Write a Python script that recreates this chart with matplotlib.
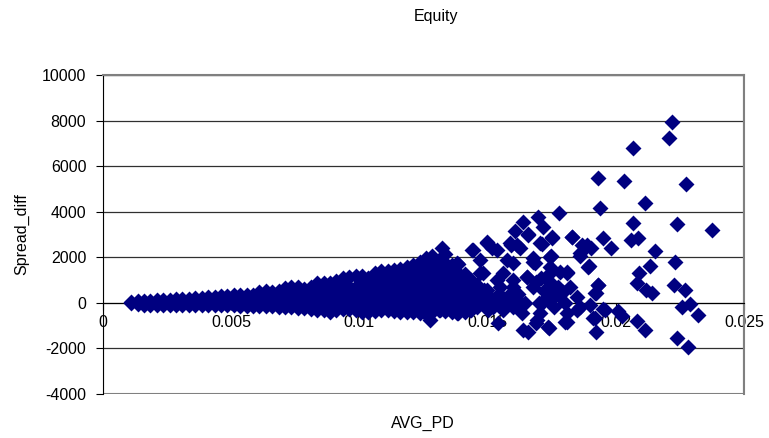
import matplotlib.pyplot as plt
from matplotlib.patches import Rectangle

plt.rcParams['font.family'] = ['Liberation Sans', 'DejaVu Sans']
plt.rcParams['axes.unicode_minus'] = False

# dense band of points, read column by column (AVG_PD, list of Spread_diff)
blob_columns = [
    (0.00110, [-20, 20]),
    (0.00135, [-70, 0, 60]),
    (0.00160, [-80, 0, 80]),
    (0.00185, [-90, 0, 90]),
    (0.00210, [-90, 10, 110]),
    (0.00235, [-90, 20, 120]),
    (0.00260, [-100, 20, 130]),
    (0.00285, [-100, 30, 150]),
    (0.00310, [-100, 40, 160]),
    (0.00335, [-110, 40, 180]),
    (0.00360, [-110, 50, 200]),
    (0.00385, [-110, 60, 220]),
    (0.00410, [-110, 70, 240]),
    (0.00435, [-110, 80, 260]),
    (0.00460, [-110, 90, 280]),
    (0.00485, [-110, 100, 310]),
    (0.00510, [-110, 110, 330]),
    (0.00535, [-120, 110, 350]),
    (0.00560, [-120, 120, 330]),
    (0.00585, [-130, 130, 360]),
    (0.00610, [-140, 130, 480]),
    (0.00635, [-140, 150, 520]),
    (0.00660, [-150, 150, 460]),
    (0.00685, [-160, 100, 380, 540]),
    (0.00710, [-170, 100, 380, 640]),
    (0.00735, [-190, 100, 400, 690]),
    (0.00760, [-210, 100, 400, 680]),
    (0.00785, [-240, 100, 400, 620]),
    (0.00810, [-270, 50, 350, 700]),
    (0.00835, [-300, 0, 300, 600, 850]),
    (0.00860, [-330, 0, 300, 600, 870]),
    (0.00885, [-380, -80, 250, 550, 880]),
    (0.00910, [-330, -50, 250, 550, 950]),
    (0.00935, [-250, 50, 350, 700, 1080]),
    (0.00960, [-250, 50, 350, 700, 1150]),
    (0.00985, [-300, 0, 350, 700, 1180]),
    (0.01010, [-380, -50, 300, 650, 950, 1180]),
    (0.01035, [-380, -50, 300, 650, 950, 1100]),
    (0.01060, [-350, -50, 300, 650, 1000, 1320]),
    (0.01085, [-330, 0, 350, 700, 1050, 1390]),
    (0.01110, [-320, 0, 350, 700, 1050, 1420]),
    (0.01135, [-350, 0, 350, 700, 1050, 1450]),
    (0.01160, [-380, -50, 300, 650, 1000, 1500]),
    (0.01185, [-400, -50, 300, 650, 1000, 1250, 1580]),
    (0.01210, [-420, -80, 250, 600, 950, 1300, 1650]),
    (0.01235, [-450, -100, 250, 600, 950, 1300, 1800]),
    (0.01260, [-480, -100, 250, 600, 950, 1300, 1650, 1950]),
    (0.01285, [-400, -50, 300, 650, 1000, 1350, 1700, 2050]),
    (0.01310, [-300, 0, 350, 700, 1050, 1400, 1800]),
    (0.01335, [-350, 0, 350, 700, 1050, 1400, 1750, 2150]),
    (0.01360, [-400, -50, 300, 650, 1000, 1350, 1650]),
    (0.01385, [-450, -100, 250, 600, 950, 1300, 1700]),
    (0.01410, [-400, -50, 300, 650, 1000, 1250]),
    (0.01435, [-300, 0, 350, 700, 1000]),
    (0.01460, [-200, 100, 450, 800]),
    (0.01485, [-100, 200, 550]),
]

# scattered points in the wider part of the cloud
spread_pd = [
    0.02220, 0.02209, 0.02066, 0.01929, 0.02033, 0.02273, 0.01937, 0.02115,
    0.02066, 0.02240, 0.02375, 0.01777, 0.01698, 0.01637, 0.01715, 0.01607,
    0.01656, 0.01750, 0.01829, 0.01949, 0.02088, 0.02058, 0.01983, 0.01869,
    0.01902, 0.01711, 0.01590, 0.01626, 0.01496, 0.01516, 0.01444, 0.02153,
    0.01860, 0.01747, 0.01676, 0.02232, 0.01895, 0.02134, 0.02092, 0.01809,
    0.01655, 0.02083, 0.02227, 0.01930, 0.02271, 0.02116, 0.02140, 0.01923,
    0.02258, 0.02289, 0.02322, 0.01951, 0.02007, 0.02023, 0.01912, 0.02081,
    0.02114, 0.01923, 0.01808, 0.01738, 0.01656, 0.01689, 0.02240, 0.02280,
    0.01542,
    0.01659, 0.01750, 0.01828, 0.01613, 0.01704, 0.01887, 0.01860, 0.01743,
    0.01678, 0.01893, 0.01653, 0.01743, 0.01809, 0.01932, 0.01919, 0.01600,
    0.01756, 0.01795, 0.01717, 0.01626, 0.01848, 0.01899, 0.01958, 0.01639,
    0.01691, 0.01737, 0.01802, 0.01919,
    0.01321, 0.01438, 0.01497, 0.01535, 0.01587, 0.01600, 0.01561, 0.01535,
    0.01380, 0.01340, 0.01470, 0.01497, 0.01418, 0.01587, 0.01522, 0.01275,
    0.01314, 0.01380, 0.01431,
    0.01470, 0.01483, 0.01548, 0.01509, 0.01587, 0.01646, 0.01730, 0.01743,
    0.01776, 0.01848, 0.01860, 0.01809, 0.01704, 0.01633, 0.01561, 0.01457,
    0.01438, 0.01600, 0.01678, 0.01782, 0.01743, 0.01575, 0.01685,
    0.01500, 0.01520, 0.01545, 0.01560, 0.01580, 0.01600, 0.01620, 0.01700,
    0.01720, 0.01740, 0.01760, 0.01780, 0.01800, 0.01820, 0.01690, 0.01710,
]
spread_diff = [
    7952, 7224, 6811, 5496, 5351, 5219, 4181, 4371,
    3494, 3450, 3202, 3934, 3758, 3567, 3348, 3158,
    3012, 2865, 2910, 2865, 2865, 2763, 2426, 2544,
    2426, 2574, 2544, 2398, 2690, 2398, 2325, 2295,
    2061, 2061, 1959, 1811, 1623, 1636, 1303, 1329,
    1154, 890, 789, 789, 570, 570, 452, 425,
    -189, -57, -526, -263, -338, -570, -671, -776,
    -1184, -1285, -820, -1110, -1285, -864, -1548, -1943,
    -864,
    2982, 2908, 2908, 2544, 2618, 2544, 2180, 2031,
    1811, 1592, 1154, 1303, 1373, 789, 425, 715,
    570, 496, 57, 57, -307, -88, -307, -1184,
    -746, -1039, -820, -671,
    2412, 2325, 2618, 2325, 2618, 1741, 1303, 1009,
    1741, 1154, 1303, 570, 276, -13, -162, -746,
    -307, -452, -307,
    1886, 1303, 715, 276, 132, -13, 276, 934,
    715, 276, -162, -452, -452, -452, -307, 132,
    715, 1009, 715, 1373, 1592, 1886, 1741,
    -300, 100, 400, -100, 300, -200, 400, 0,
    500, 100, -200, 300, 0, 700, 900, 1100,
]

x_ticks = [0, 0.005, 0.01, 0.015, 0.02, 0.025]
x_tick_labels = ['0', '0.005', '0.01', '0.015', '0.02', '0.025']
y_ticks = [-4000, -2000, 0, 2000, 4000, 6000, 8000, 10000]

pd_all = [x for x, ys in blob_columns for _ in ys] + spread_pd
diff_all = [y for _, ys in blob_columns for y in ys] + spread_diff

fig = plt.figure(figsize=(7.69, 4.38), dpi=100)
ax = fig.add_axes([103 / 769, 1 - 394 / 438, 641 / 769, 319 / 438])

ax.scatter(pd_all, diff_all, marker='D', s=66, color='#000080',
           linewidths=0, zorder=3, clip_on=False)

ax.set_xlim(0, 0.025)
ax.set_ylim(-4000, 10000)
ax.set_xticks(x_ticks)
ax.set_xticklabels(x_tick_labels)
ax.set_yticks(y_ticks)
ax.yaxis.grid(True, color='#303030', linewidth=0.9)
ax.set_axisbelow(True)

# Excel-like axes: x axis crosses at y = 0, grey plot-area frame
ax.spines['bottom'].set_position(('data', 0))
ax.spines['bottom'].set_color('black')
ax.spines['left'].set_color('black')
for side in ['top', 'right']:
    ax.spines[side].set_color('#808080')
    ax.spines[side].set_linewidth(1.5)
ax.add_patch(Rectangle((0, 0), 1, 1, transform=ax.transAxes, fill=False,
                       edgecolor='#808080', linewidth=1.5, zorder=1))
ax.tick_params(axis='both', direction='out', length=5, labelsize=11.5,
               color='black')
ax.tick_params(axis='y', pad=7)
ax.tick_params(axis='x', pad=4)

fig.text(436 / 769, 1 - 17 / 438, 'Equity', ha='center', va='center', fontsize=11.5)
fig.text(423 / 769, 1 - 423 / 438, 'AVG_PD', ha='center', va='center', fontsize=11.5)
fig.text(22 / 769, 1 - 234 / 438, 'Spread_diff', ha='center', va='center',
         rotation=90, fontsize=11.5)

plt.savefig('out.png', dpi=100)
